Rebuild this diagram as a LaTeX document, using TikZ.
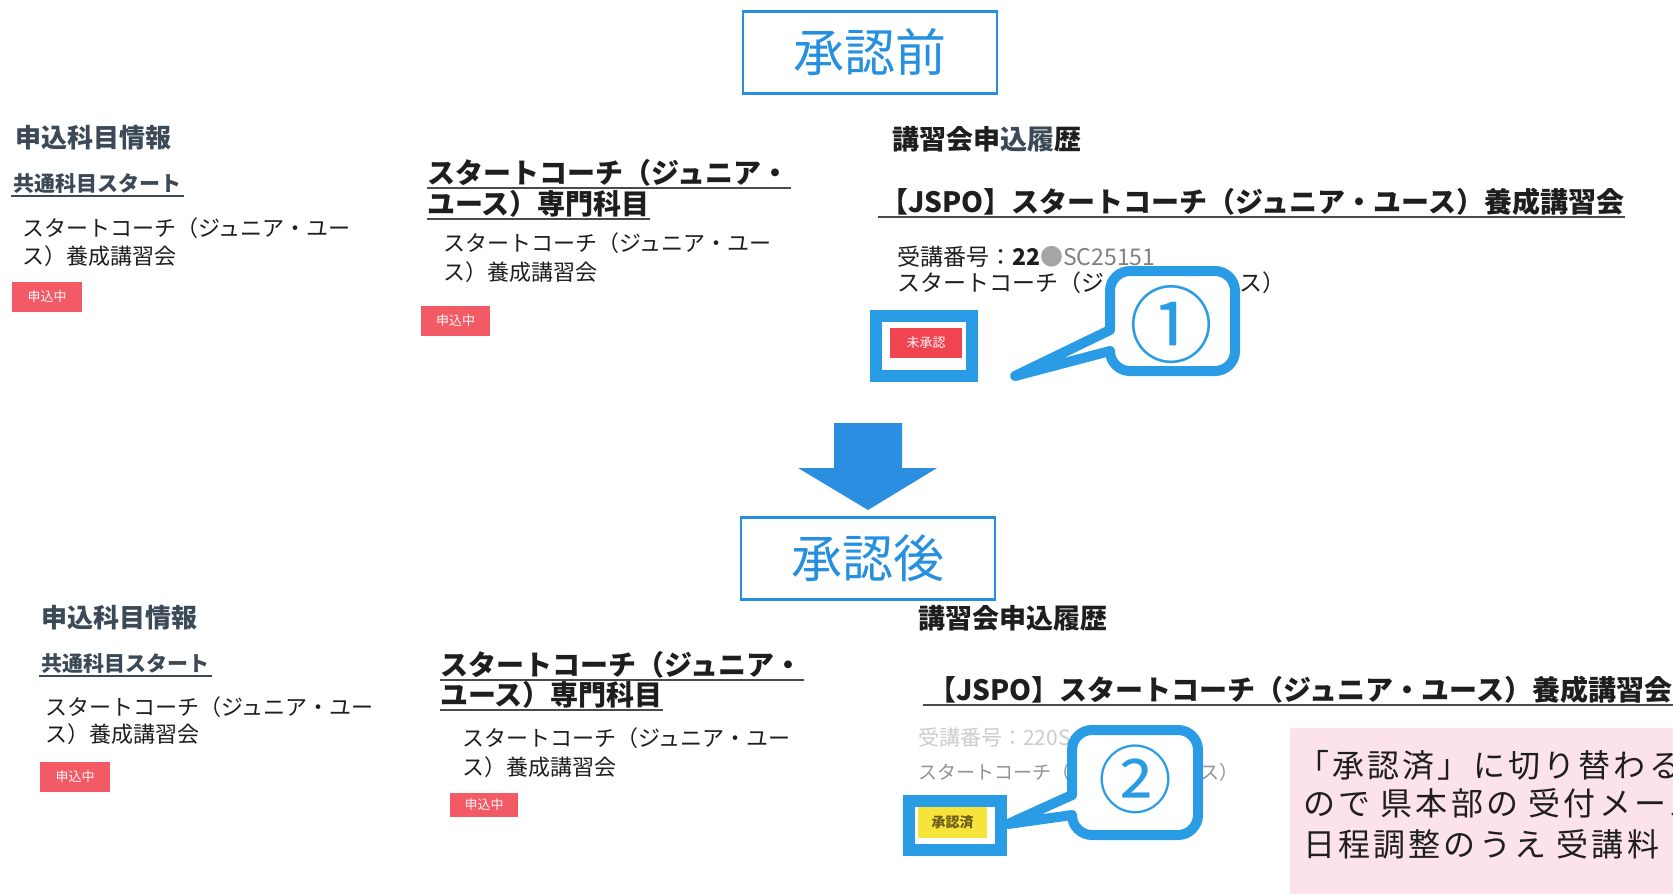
\documentclass[tikz,border=0pt]{standalone}
\usepackage{fontspec}
\setmainfont{Noto Sans CJK JP}
\definecolor{skyb}{RGB}{38,144,224}
\definecolor{arrowb}{RGB}{43,142,224}
\definecolor{callb}{RGB}{42,156,230}
\definecolor{slate}{RGB}{60,73,86}
\definecolor{ink}{RGB}{30,30,30}
\definecolor{badgered}{RGB}{242,90,102}
\definecolor{badgered2}{RGB}{240,68,80}
\definecolor{badgey}{RGB}{246,228,58}
\definecolor{olive}{RGB}{110,92,30}
\definecolor{notepink}{RGB}{252,226,234}
\newcommand\fs[1]{\fontsize{#1}{#1}\selectfont}
\begin{document}
\begin{tikzpicture}[x=1pt,y=-1pt,
  txt/.style={anchor=west,inner sep=0pt,text=ink},
  head/.style={txt,font=\fs{28}\bfseries},
  body/.style={txt,font=\fs{22}},
  sect/.style={txt,font=\fs{26}\bfseries,text=slate},
  subh/.style={txt,font=\fs{21}\bfseries,text=slate},
  uline/.style={line width=2pt,draw=#1},
  badge/.style={fill=#1,inner sep=0pt,text=white!88!pink,font=\fs{13}},
  titlebox/.style={draw=skyb,line width=2.5pt,text=skyb,font=\fs{51},minimum width=254,minimum height=82,inner sep=0pt},
  hframe/.style={draw=callb,line width=12pt,fill=white,inner sep=0pt},
  cline/.style={draw=callb,line width=10pt,line cap=round,line join=round},
  note/.style={txt,font=\fs{32}\addfontfeature{LetterSpace=10},text=ink}
]
\useasboundingbox (0,0) rectangle (1673,894);
\fill[white] (0,0) rectangle (1673,894);

% titles and arrow
\node[titlebox] (pre) at (870,52.5) {承認前};
\node[titlebox] (post) at (868,558.5) {承認後};
\fill[arrowb] (834,423) -- (902,423) -- (902,468) -- (937,468) -- (868,510) -- (798,468) -- (834,468) -- cycle;

% ---------- top left
\node[sect] (a1) at (15,138) {申込科目情報};
\node[subh] (a2) at (13,184) {共通科目スタート};
\draw[uline=slate] ([xshift=-2pt,yshift=-2pt]a2.south west) -- ([xshift=3pt,yshift=-2pt]a2.south east);
\node[body] (a3) at (22,228) {スタートコーチ（ジュニア・ユー};
\node[body] (a4) at (22,256) {ス）養成講習会};
\node[badge=badgered,minimum width=70,minimum height=30] (a5) at (47,297) {申込中};

% ---------- top middle
\node[head] (m1) at (427,173) {スタートコーチ（ジュニア・};
\node[head] (m2) at (427,204) {ユース）専門科目};
\draw[uline=ink!80] ([yshift=-1pt]m1.south west) -- ([xshift=2pt,yshift=-1pt]m1.south east);
\draw[uline=ink!80] ([yshift=-1pt]m2.south west) -- ([yshift=-1pt]m2.south east);
\node[body] (m3) at (443,243) {スタートコーチ（ジュニア・ユー};
\node[body] (m4) at (443,272) {ス）養成講習会};
\node[badge=badgered,minimum width=69,minimum height=30] (m5) at (455.5,321) {申込中};

% ---------- top right
\node[txt,font=\fs{27}\bfseries] (r1) at (892,139) {講習会申\textcolor{slate}{込履}歴};
\node[head] (r2) at (880,202) {【JSPO】スタートコーチ（ジュニア・ユース）養成講習会};
\draw[uline=ink!80] ([xshift=-2pt,yshift=-1pt]r2.south west) -- ([yshift=-1pt]r2.south east);
\node[txt,font=\fs{23}] (r3) at (897,257) {受講番号：\textbf{22}\textcolor{gray!70}{●}\textcolor{gray}{SC25151}};
\node[txt,font=\fs{23}] (r4) at (897,283) {スタートコーチ（ジュニア・ユース）};
\node[hframe,minimum width=96,minimum height=60] (f1) at (924,346) {};
\node[badge=badgered2,minimum width=72,minimum height=30] (u1) at (926,343) {未承認};

% callout 1
\coordinate (tip1) at (1015,376);
\fill[white,rounded corners=20pt] (1110,271) rectangle (1235,371);
\fill[white] (1110,330) -- (tip1) -- (1110,351) -- cycle;
\draw[cline,rounded corners=20pt] (1110,351) -- (1110,371) -- (1235,371) -- (1235,271) -- (1110,271) -- (1110,330);
\draw[cline] (1110,330) -- (tip1) -- (1110,351);
\node[text=callb,font=\fs{84},inner sep=0pt] (c1) at (1171,325) {①};

% ---------- bottom left
\node[sect] (b1) at (41,618) {申込科目情報};
\node[subh] (b2) at (41,664) {共通科目スタート};
\draw[uline=slate] ([xshift=-2pt,yshift=-2pt]b2.south west) -- ([xshift=3pt,yshift=-2pt]b2.south east);
\node[body] (b3) at (45,707) {スタートコーチ（ジュニア・ユー};
\node[body] (b4) at (45,734) {ス）養成講習会};
\node[badge=badgered,minimum width=70,minimum height=30] (b5) at (75,777) {申込中};

% ---------- bottom middle
\node[head] (n1) at (440,665) {スタートコーチ（ジュニア・};
\node[head] (n2) at (440,695) {ユース）専門科目};
\draw[uline=ink!80] ([yshift=-1pt]n1.south west) -- ([xshift=2pt,yshift=-1pt]n1.south east);
\draw[uline=ink!80] ([yshift=-1pt]n2.south west) -- ([yshift=-1pt]n2.south east);
\node[body] (n3) at (462,738) {スタートコーチ（ジュニア・ユー};
\node[body] (n4) at (462,767) {ス）養成講習会};
\node[badge=badgered,minimum width=68,minimum height=24] (n5) at (484,805) {申込中};

% ---------- bottom right
\node[txt,font=\fs{27}\bfseries] (s1) at (918,618) {講習会申込履歴};
\node[head] (s2) at (928,690) {【JSPO】スタートコーチ（ジュニア・ユース）養成講習会};
\draw[uline=ink!80] ([xshift=-5pt,yshift=-1pt]s2.south west) -- ([yshift=-1pt]s2.south east);
\node[txt,font=\fs{21},text=gray!40] (s3) at (918,737) {受講番号：220S};
\node[txt,font=\fs{19},text=gray!85] (s4) at (918,772) {スタートコーチ（ジュニア・ユース）};
\node[hframe,minimum width=92,minimum height=49] (f2) at (955,825.5) {};
\node[badge=badgey,text=olive,font=\fs{14}\bfseries,minimum width=69,minimum height=31] (y2) at (952.5,822.5) {承認済};

% callout 2
\coordinate (tip2) at (1008,824);
\fill[white,rounded corners=20pt] (1072,730) rectangle (1198,835);
\fill[white] (1072,795) -- (tip2) -- (1072,815) -- cycle;
\draw[cline,rounded corners=20pt] (1072,815) -- (1072,835) -- (1198,835) -- (1198,730) -- (1072,730) -- (1072,795);
\draw[cline] (1072,795) -- (tip2) -- (1072,815);
\node[text=callb,font=\fs{74},inner sep=0pt] (c2) at (1135,779) {②};

% handwritten note
\fill[notepink] (1290,728) rectangle (1673,894);
\node[note] (p1) at (1297,765) {「承認済」に切り替わる};
\node[note] (p2) at (1303,803) {ので 県本部の 受付メール};
\node[note] (p3) at (1303,844) {日程調整のうえ 受講料};
\end{tikzpicture}
\end{document}
